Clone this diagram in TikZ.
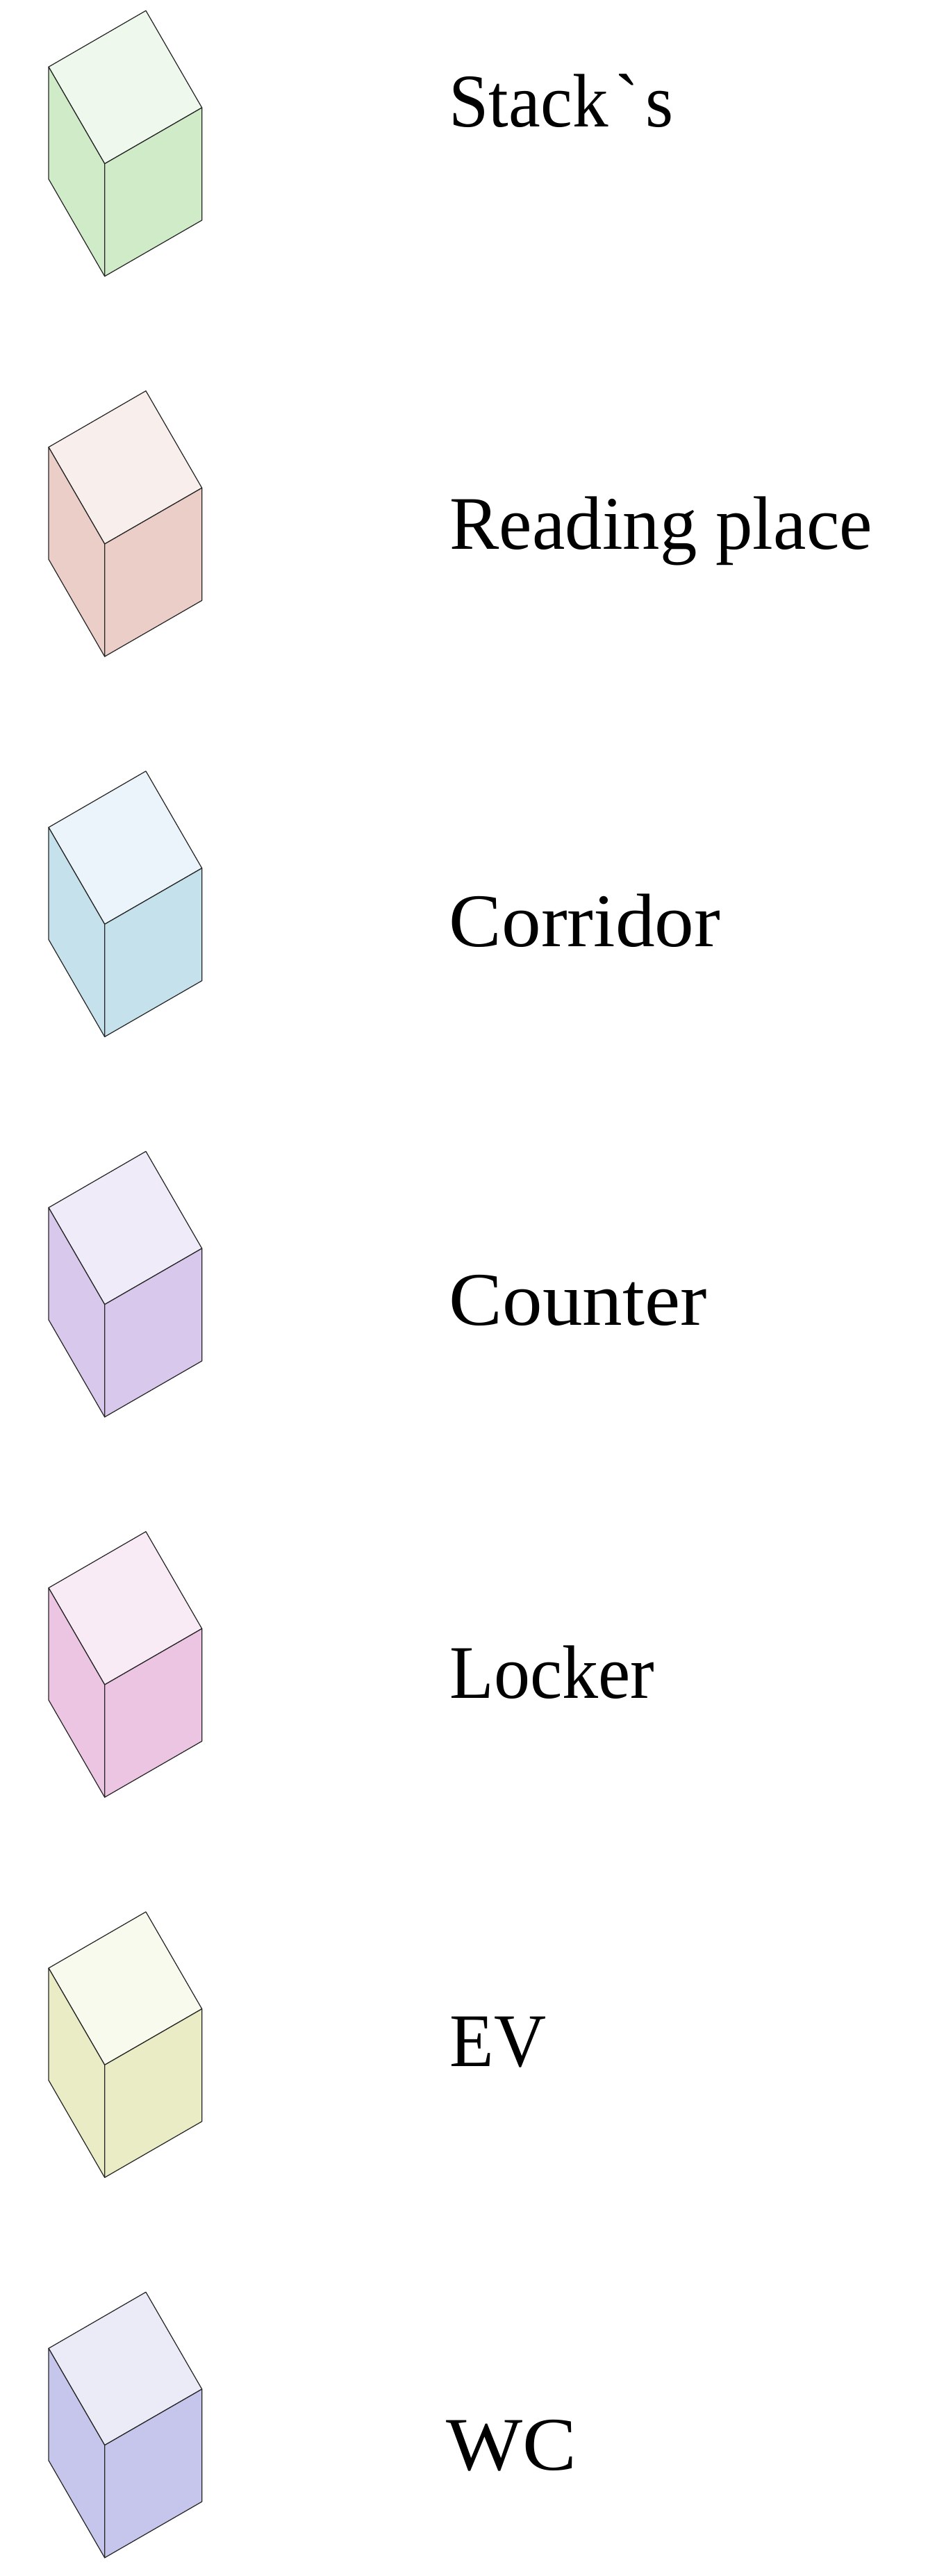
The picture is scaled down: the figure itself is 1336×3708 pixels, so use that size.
\documentclass[tikz,border=0pt]{standalone}
\usepackage{fontspec}
\newfontfamily\legendfont{Liberation Serif}
\definecolor{stackstop}{HTML}{EEF8EC}
\definecolor{stacksside}{HTML}{CFEBC8}
\definecolor{readingtop}{HTML}{F8EFED}
\definecolor{readingside}{HTML}{EBCEC7}
\definecolor{corridortop}{HTML}{EAF4FA}
\definecolor{corridorside}{HTML}{C5E2EC}
\definecolor{countertop}{HTML}{F0EBF8}
\definecolor{counterside}{HTML}{D8C8EC}
\definecolor{lockertop}{HTML}{F8EBF5}
\definecolor{lockerside}{HTML}{ECC5E2}
\definecolor{evtop}{HTML}{F8FAEE}
\definecolor{evside}{HTML}{EAECC5}
\definecolor{wctop}{HTML}{EBEBF8}
\definecolor{wcside}{HTML}{C6C6EC}
\tikzset{
  face/.style={draw=black!85,line width=0.35pt,line join=round},
  legend/.style={anchor=base west,inner sep=0pt,font=\legendfont\fontsize{31}{36}\selectfont}
}
\begin{document}
\begin{tikzpicture}[x=0.01cm,y=-0.01cm]
\useasboundingbox (0,0) rectangle (1336,3708);

\foreach \i/\room/\tx/\base/\xf/\txt in {0/stacks/646/182/0.945/{Stack\hspace{3pt}`\hspace{3pt}s},1/reading/647/790/0.98/Reading place,2/corridor/646/1362/1.04/Corridor,3/counter/646/1907/1.057/Counter,4/locker/647/2444/0.955/Locker,5/ev/647/2974/0.955/EV,6/wc/642/3555/1.07/WC}
{
\pgfmathsetmacro{\dy}{547.33*\i}
\begin{scope}[yshift=-\dy*0.01cm]
\coordinate (back\i) at (210,15.3);
\coordinate (left\i) at (70,96.3);
\coordinate (right\i) at (290.7,155);
\coordinate (mid\i) at (150.7,235.7);
\coordinate (leftb\i) at (70,257.7);
\coordinate (rightb\i) at (290.7,317);
\coordinate (low\i) at (150.7,397.7);
\draw[face,fill=\room top] (back\i) -- (right\i) -- (mid\i) -- (left\i) -- cycle;
\draw[face,fill=\room side] (left\i) -- (mid\i) -- (low\i) -- (leftb\i) -- cycle;
\draw[face,fill=\room side] (mid\i) -- (right\i) -- (rightb\i) -- (low\i) -- cycle;
\end{scope}
\node[legend] (label\i) at (\tx,\base) {\scalebox{\xf}[1]{\txt}};
}
\end{tikzpicture}
\end{document}
